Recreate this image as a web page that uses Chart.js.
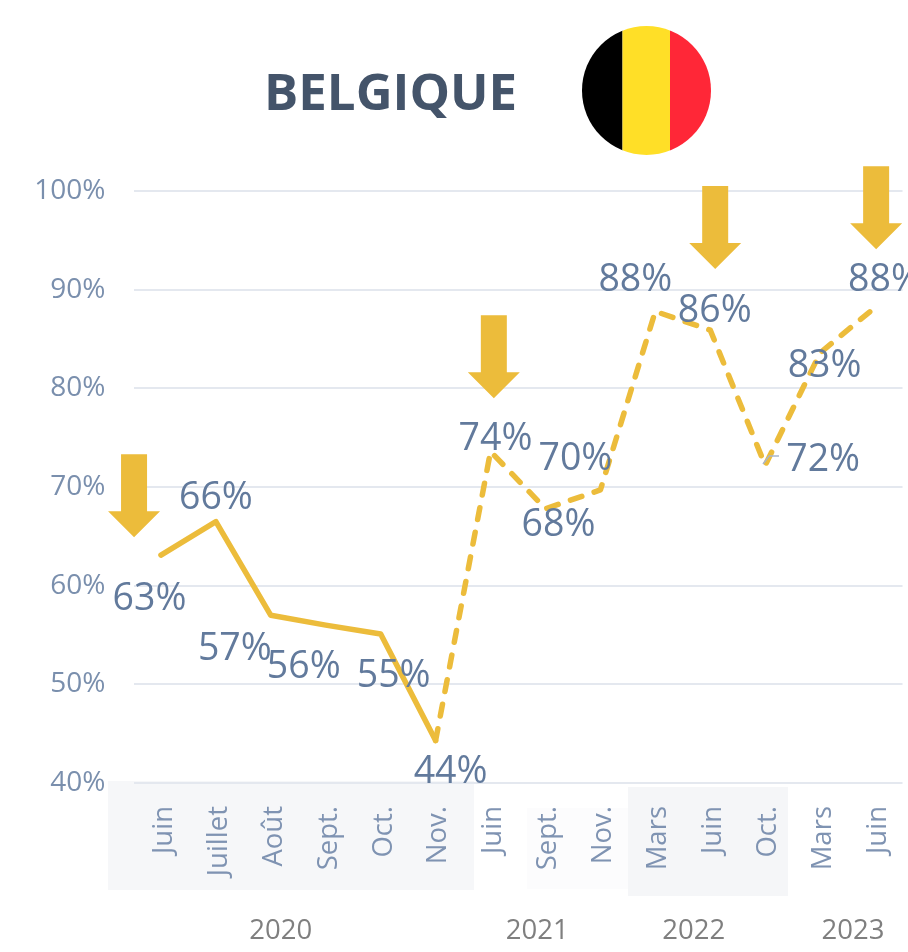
<!DOCTYPE html>
<html><head><meta charset="utf-8">
<style>html,body{margin:0;padding:0;background:#fff}canvas{display:block}</style>
<script src="https://cdn.jsdelivr.net/npm/chart.js@4"></script></head>
<body><canvas id="c" width="908" height="952"></canvas>
<script>
const categories=["Juin","Juillet","Août","Sept.","Oct.","Nov.","Juin","Sept.","Nov.","Mars","Juin","Oct.","Mars","Juin"];
const values=[63.1,66.5,57,56,55.1,44.3,73.6,67.8,69.7,87.8,85.9,72.2,83.6,88.2];
const valueLabels=["63%","66%","57%","56%","55%","44%","74%","68%","70%","88%","86%","72%","83%","88%"];
const yTicks=[40,50,60,70,80,90,100];
const years=["2020","2021","2022","2023"];
const yearCentres=[2.18,6.85,9.7,12.6];
const arrowCategories=[-0.49,6.06,10.09,13.02];
const arrowTips=[64.9,79,92.1,94.1];
const labelNudges=[[-11.5,44],[0,-23.5],[-36,34],[-22,42],[13,42],[15,32],[5,-12.5],[13,17],[-25,-31],[-20,-31],[4.5,-19],[58,-5],[4.5,13],[10,-27]];
const FONT='"Open Sans",sans-serif';
const LABEL='#627a9c',GOLD='#ecbc3b';
const deco={id:'deco',
 beforeDraw(ch){const c=ch.ctx;c.save();
  c.fillStyle='#f6f7f9';c.fillRect(108,781,366,109);
  c.fillStyle='#fcfcfd';c.fillRect(527,808,101,81);
  c.fillStyle='#f5f6f8';c.fillRect(628,787,160,109);
  c.restore();},
 afterDraw(ch){const c=ch.ctx,x=ch.scales.x,y=ch.scales.y;c.save();
  c.fillStyle='#44546a';c.font='bold 51px '+FONT;c.textAlign='left';c.textBaseline='alphabetic';
  c.fillText('BELGIQUE',264,110);
  c.save();c.beginPath();c.arc(646.5,90.5,64.5,0,Math.PI*2);c.clip();
  c.fillStyle='#000';c.fillRect(580,20,42.5,140);
  c.fillStyle='#ffdf27';c.fillRect(622.5,20,47.5,140);
  c.fillStyle='#ff2737';c.fillRect(670,20,45,140);c.restore();
  c.fillStyle=GOLD;
  arrowCategories.forEach((a,i)=>{const ax=x.getPixelForValue(a),tip=y.getPixelForValue(arrowTips[i]);
   c.beginPath();c.moveTo(ax,tip);c.lineTo(ax+26,tip-26);c.lineTo(ax+13,tip-26);c.lineTo(ax+13,tip-83);
   c.lineTo(ax-13,tip-83);c.lineTo(ax-13,tip-26);c.lineTo(ax-26,tip-26);c.closePath();c.fill();});
  c.strokeStyle='#a9b6ca';c.lineWidth=1.5;c.beginPath();c.moveTo(763,464);c.lineTo(769,456);c.lineTo(779,456);c.stroke();
  c.fillStyle=LABEL;c.font='37.5px '+FONT;c.textAlign='center';c.textBaseline='middle';
  valueLabels.forEach((t,i)=>{c.fillText(t,x.getPixelForValue(i)+labelNudges[i][0],y.getPixelForValue(values[i])+labelNudges[i][1]);});
  c.fillStyle='#7f7f7f';c.font='27.5px '+FONT;
  years.forEach((t,i)=>c.fillText(t,x.getPixelForValue(yearCentres[i]),931));
  c.restore();}};
new Chart(document.getElementById('c'),{type:'line',
 data:{labels:categories,datasets:[{data:values,borderColor:GOLD,borderWidth:5.5,pointRadius:0,tension:0,
  borderCapStyle:'round',borderJoinStyle:'round',clip:false,
  segment:{borderDash:s=>s.p0DataIndex>=5?[12,13]:undefined}}]},
 options:{responsive:false,animation:false,
  layout:{autoPadding:false,padding:{top:191,right:5.5,left:0,bottom:0}},
  plugins:{legend:{display:false},tooltip:{enabled:false}},
  scales:{
   x:{type:'category',offset:true,grid:{display:false},border:{display:false},
    afterFit(s){s.height=169;s.paddingLeft=0;s.paddingRight=0;},
    ticks:{autoSkip:false,minRotation:90,maxRotation:90,padding:15,labelOffset:3,color:'#7f93b2',font:{family:'"Open Sans"',size:27.5}}},
   y:{min:40,max:100,afterFit(s){s.width=133.5;s.paddingTop=0;s.paddingBottom=0;},afterBuildTicks(s){s.ticks=yTicks.map(v=>({value:v}));},
    grid:{color:'#e4e8ef',lineWidth:2,drawTicks:false},border:{display:false},
    ticks:{padding:28,color:'#7a8fad',font:{family:'"Open Sans"',size:28},callback:v=>v+'%'}}}},
 plugins:[deco]});
</script></body></html>
